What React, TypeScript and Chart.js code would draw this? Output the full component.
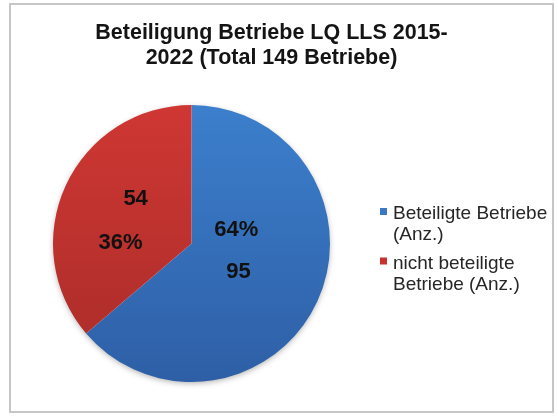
import React, { useEffect, useRef } from "react";
import { Chart, registerables } from "chart.js";

Chart.register(...registerables);

const titleLines = ["Beteiligung Betriebe LQ LLS 2015-", "2022 (Total 149 Betriebe)"];
const categories = [
  ["Beteiligte Betriebe", "(Anz.)"],
  ["nicht beteiligte", "Betriebe (Anz.)"],
];
const values = [95, 54];

const gradStops = [
  ["#3c7fcc", "#2e5fa6"],
  ["#cf3733", "#a92c29"],
];
const legendSwatch = ["#3a78c4", "#c7322e"];

// label layout: nudges relative to slice tooltip position, per line
const labelLayout = [
  [
    { kind: "pct", dx: -18, dy: -43 },
    { kind: "val", dx: -16, dy: -1 },
  ],
  [
    { kind: "val", dx: 7, dy: -16 },
    { kind: "pct", dx: -8, dy: 28 },
  ],
];

const FONT = "'Liberation Sans', Arial, sans-serif";

const decorPlugin = {
  id: "decor",
  beforeDraw(chart: any) {
    const ctx = chart.ctx;
    ctx.save();
    ctx.fillStyle = "#ffffff";
    ctx.fillRect(0, 0, chart.width, chart.height);
    ctx.restore();
  },
  beforeDatasetsDraw(chart: any) {
    const arc = chart.getDatasetMeta(0).data[0];
    if (!arc) return;
    const ctx = chart.ctx;
    ctx.save();
    ctx.shadowColor = "rgba(0,0,0,0.35)";
    ctx.shadowBlur = 6;
    ctx.shadowOffsetY = 2;
    ctx.fillStyle = "#ffffff";
    ctx.beginPath();
    ctx.arc(arc.x, arc.y, arc.outerRadius - 1, 0, Math.PI * 2);
    ctx.fill();
    ctx.restore();
  },
  afterDraw(chart: any) {
    const ctx = chart.ctx;
    ctx.save();
    // frame
    ctx.strokeStyle = "#c6c6c6";
    ctx.lineWidth = 2;
    ctx.strokeRect(10, 4, 543, 408);
    // title
    ctx.fillStyle = "#141414";
    ctx.font = `bold 21.5px ${FONT}`;
    ctx.textAlign = "center";
    ctx.textBaseline = "middle";
    titleLines.forEach((t, i) => ctx.fillText(t, 271.5, 33 + i * 25));
    // data labels
    const meta = chart.getDatasetMeta(0);
    const total = values.reduce((a, b) => a + b, 0);
    ctx.font = `bold 22px ${FONT}`;
    ctx.fillStyle = "#111111";
    meta.data.forEach((arc: any, i: number) => {
      const p = arc.tooltipPosition();
      const pct = Math.round((values[i] / total) * 100) + "%";
      labelLayout[i].forEach((l) => {
        const text = l.kind === "pct" ? pct : String(values[i]);
        ctx.fillText(text, p.x + l.dx, p.y + l.dy);
      });
    });
    // legend
    ctx.font = `19px ${FONT}`;
    ctx.textAlign = "left";
    const lx = 393;
    let y = 213;
    categories.forEach((lines, i) => {
      ctx.fillStyle = legendSwatch[i];
      ctx.fillRect(lx - 13, y - 5, 7, 7);
      ctx.fillStyle = "#262626";
      lines.forEach((ln, j) => {
        ctx.fillText(ln, lx, y + 1);
        if (j < lines.length - 1) y += 21;
      });
      y += 28.5;
    });
    ctx.restore();
  },
};

export default function App() {
  const ref = useRef<HTMLCanvasElement>(null);
  useEffect(() => {
    document.body.style.margin = "0";
    const canvas = ref.current!;
    const chart = new Chart(canvas, {
      type: "pie",
      data: {
        labels: categories.map((c) => c.join(" ")),
        datasets: [
          {
            data: values,
            borderWidth: 0,
            backgroundColor: (c: any) => {
              const area = c.chart.chartArea;
              const i = c.dataIndex;
              if (!area) return gradStops[i][0];
              const g = c.chart.ctx.createLinearGradient(0, area.top, 0, area.bottom);
              g.addColorStop(0, gradStops[i][0]);
              g.addColorStop(1, gradStops[i][1]);
              return g;
            },
          },
        ],
      },
      options: {
        responsive: false,
        animation: false,
        layout: { padding: { left: 53, right: 228, top: 105, bottom: 34 } },
        plugins: {
          legend: { display: false },
          title: { display: false },
          tooltip: { enabled: false },
        },
      },
      plugins: [decorPlugin],
    });
    return () => chart.destroy();
  }, []);
  return <canvas ref={ref} width={558} height={416} style={{ display: "block" }} />;
}
